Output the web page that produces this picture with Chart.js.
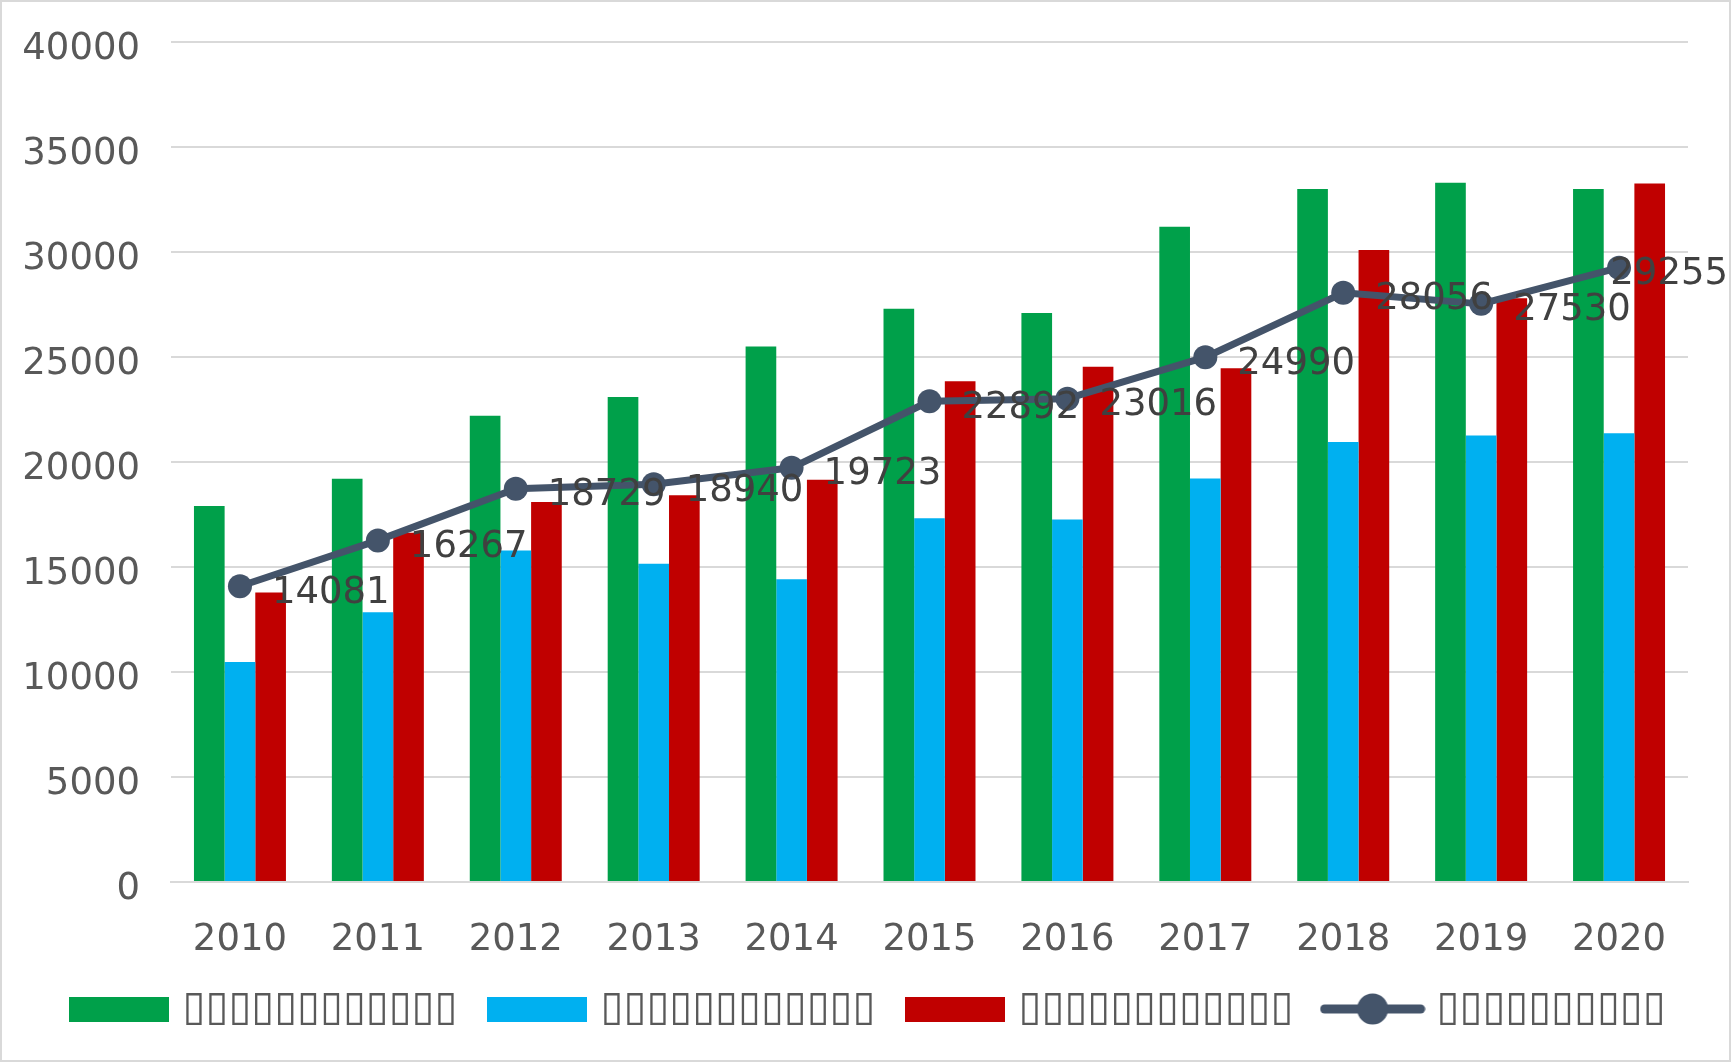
<!DOCTYPE html>
<html>
<head>
<meta charset="utf-8">
<script src="https://cdn.jsdelivr.net/npm/chart.js@4.4.0/dist/chart.umd.min.js"></script>
<style>
html,body{margin:0;padding:0;background:#fff;overflow:hidden}
#wrap{position:relative;width:1732px;height:1063px}
</style>
</head>
<body>
<div id="wrap"><canvas id="c" width="1732" height="1063"></canvas></div>
<script>
// ---- data ----
const years = ['2010','2011','2012','2013','2014','2015','2016','2017','2018','2019','2020'];
const greenValues = [17900, 19200, 22200, 23100, 25500, 27300, 27100, 31200, 33000, 33300, 33000];
const blueValues  = [10480, 12840, 15790, 15160, 14420, 17320, 17260, 19210, 20950, 21260, 21370];
const redValues   = [13790, 16630, 18100, 18420, 19160, 23840, 24530, 24470, 30100, 27800, 33260];
const lineValues  = [14081, 16267, 18729, 18940, 19723, 22892, 23016, 24990, 28056, 27530, 29255];
const seriesLabels = ['▯▯▯▯▯▯▯▯▯▯▯▯', '▯▯▯▯▯▯▯▯▯▯▯▯', '▯▯▯▯▯▯▯▯▯▯▯▯', '▯▯▯▯▯▯▯▯▯▯'];
const yMin = 0, yMax = 40000, yStep = 5000;

// ---- style ----
const FAMILY = 'DejaVu Sans';
const COLORS = ['#00A04A', '#00B0F0', '#C00000', '#44546A'];

const mctx = document.createElement('canvas').getContext('2d');
mctx.font = '100px "' + FAMILY + '"';
const adv = mctx.measureText('▯').width / 100;
const legendFS = Math.max(20, Math.min(48, 22.9 / adv));
mctx.font = legendFS + 'px "' + FAMILY + '"';
const w12 = mctx.measureText(seriesLabels[0]).width;
const psw = Math.max(60, 128 - legendFS);          // legend box slot width so that text gap matches
const legendPad = Math.max(6, 418 - (psw + legendFS / 2 + w12));
const padBottom = Math.max(0, 44 - legendFS / 2);
const xAxisH = 1009 - legendPad - legendFS / 2 - 882;
const padLeft = 9;

function boxImg(color) {
  const c = document.createElement('canvas');
  c.width = 100; c.height = 25;
  const g = c.getContext('2d');
  g.fillStyle = color; g.fillRect(0, 0, 100, 25);
  return c;
}
function lineImg(color) {
  const c = document.createElement('canvas');
  c.width = 106; c.height = 34;
  const g = c.getContext('2d');
  g.strokeStyle = color; g.lineWidth = 9; g.lineCap = 'round';
  g.beginPath(); g.moveTo(5, 17); g.lineTo(101, 17); g.stroke();
  g.fillStyle = color; g.beginPath(); g.arc(53, 17, 15.5, 0, Math.PI * 2); g.fill();
  return c;
}
const legendImgs = [boxImg(COLORS[0]), boxImg(COLORS[1]), boxImg(COLORS[2]), lineImg(COLORS[3])];

const framePlugin = {
  id: 'frame',
  afterDraw(chart) {
    const c = chart.ctx; c.save();
    c.strokeStyle = '#d9d9d9'; c.lineWidth = 2;
    c.strokeRect(1, 1, chart.width - 3, chart.height - 3);
    c.restore();
  }
};
const lineLabelPlugin = {
  id: 'lineLabels',
  afterDatasetsDraw(chart) {
    const meta = chart.getDatasetMeta(3);
    const ds = chart.data.datasets[3];
    const c = chart.ctx; c.save();
    c.font = '37px "' + FAMILY + '"';
    c.fillStyle = '#404040'; c.textBaseline = 'middle'; c.textAlign = 'left';
    meta.data.forEach((pt, i) => {
      const t = String(ds.data[i]);
      const w = c.measureText(t).width;
      let x = pt.x + 32;
      if (x + w > chart.width - 4) x = chart.width - 4 - w;
      c.fillText(t, x, pt.y + 7);
    });
    c.restore();
  }
};

new Chart(document.getElementById('c'), {
  type: 'bar',
  data: {
    labels: years,
    datasets: [
      {type: 'bar', label: seriesLabels[0], data: greenValues, backgroundColor: COLORS[0], barPercentage: 1, categoryPercentage: 0.667, order: 1},
      {type: 'bar', label: seriesLabels[1], data: blueValues, backgroundColor: COLORS[1], barPercentage: 1, categoryPercentage: 0.667, order: 1},
      {type: 'bar', label: seriesLabels[2], data: redValues, backgroundColor: COLORS[2], barPercentage: 1, categoryPercentage: 0.667, order: 1},
      {type: 'line', label: seriesLabels[3], data: lineValues, borderColor: COLORS[3], backgroundColor: COLORS[3],
       borderWidth: 7, borderJoinStyle: 'round', pointRadius: 12, pointBorderWidth: 0, pointBackgroundColor: COLORS[3],
       tension: 0, fill: false, order: 0}
    ]
  },
  options: {
    responsive: false,
    animation: false,
    devicePixelRatio: 1,
    layout: {padding: {top: 42, left: padLeft, right: 0, bottom: padBottom}},
    plugins: {
      tooltip: {enabled: false},
      legend: {
        position: 'bottom',
        labels: {
          usePointStyle: true,
          pointStyleWidth: psw,
          padding: legendPad,
          color: '#595959',
          font: {family: FAMILY, size: legendFS},
          generateLabels(chart) {
            return chart.data.datasets.map((ds, i) => ({
              text: ds.label, pointStyle: legendImgs[i], fillStyle: COLORS[i], strokeStyle: COLORS[i],
              lineWidth: 0, hidden: false, datasetIndex: i, fontColor: '#595959', rotation: 0
            }));
          }
        }
      }
    },
    scales: {
      x: {
        offset: true,
        grid: {display: false, drawTicks: false},
        border: {display: true, color: '#d9d9d9', width: 2},
        ticks: {color: '#595959', font: {family: FAMILY, size: 37}, padding: 36, maxRotation: 0, autoSkip: false},
        afterFit(s) { s.height = xAxisH; }
      },
      y: {
        min: yMin, max: yMax,
        grid: {color: '#d9d9d9', lineWidth: 2, drawTicks: true, tickLength: 31, tickColor: 'rgba(0,0,0,0)'},
        border: {display: false},
        ticks: {stepSize: yStep, color: '#595959', font: {family: FAMILY, size: 37}, padding: 0, labelOffset: 7,
                callback: v => String(v)},
        afterFit(s) { s.width = 171 - padLeft; }
      },
      yR: {
        position: 'right', display: true,
        grid: {display: false, drawTicks: false},
        border: {display: false},
        ticks: {display: false},
        afterFit(s) { s.width = 44; }
      }
    }
  },
  plugins: [framePlugin, lineLabelPlugin]
});
</script>
</body>
</html>
